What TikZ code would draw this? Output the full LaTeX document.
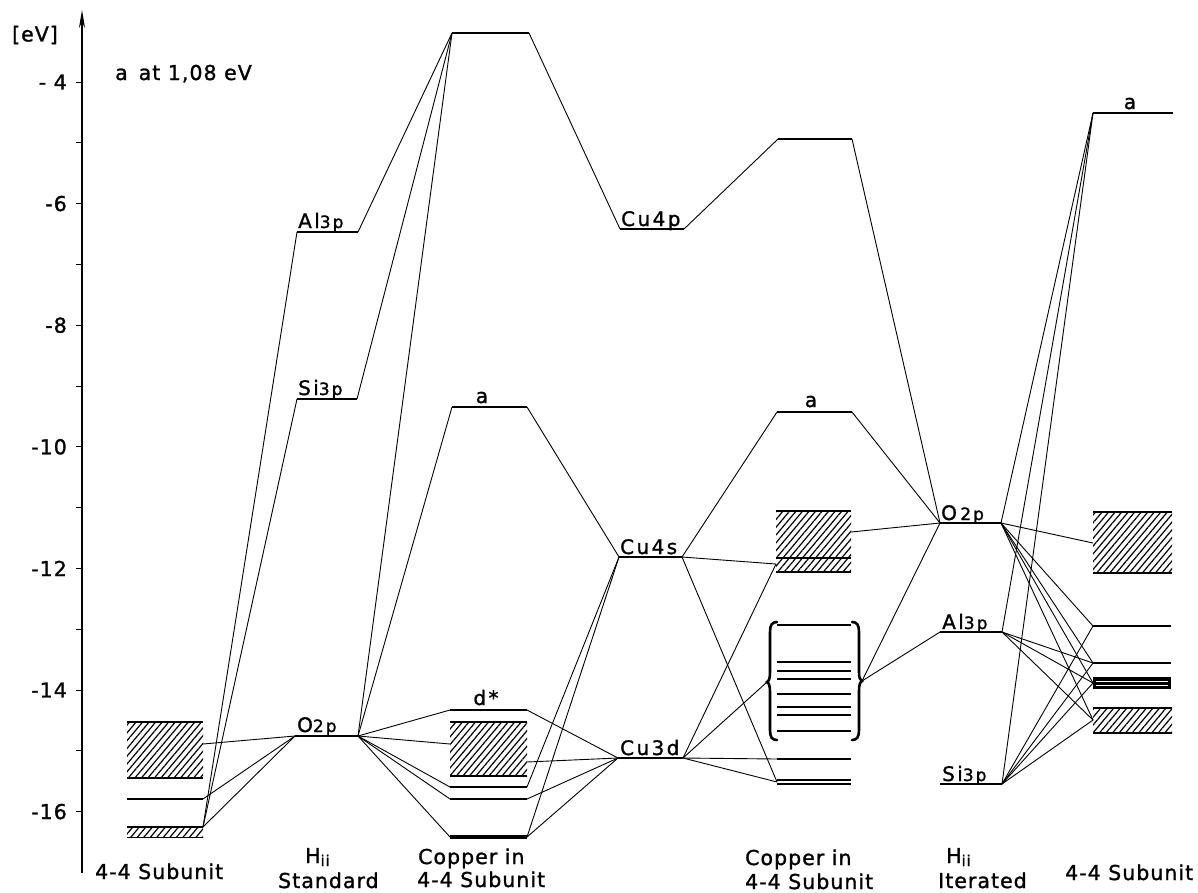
\documentclass[tikz,border=0pt]{standalone}
\usepackage{fontspec}
\setmainfont{DejaVu Sans}
\newfontfamily\lfa{DejaVu Sans}[LetterSpace=5,UprightFeatures={FakeBold=1.3}]
\newfontfamily\lfb{DejaVu Sans}[LetterSpace=12,UprightFeatures={FakeBold=1.3}]
\usetikzlibrary{arrows.meta,patterns.meta}
\newcommand\labfont{\lfb\fontsize{20}{22}\selectfont}
\newcommand\axfont{\lfa\fontsize{20.5}{22}\selectfont}
\newcommand\smf[1]{{\lfb\fontsize{17}{17}\selectfont #1}}
\newcommand\sbf[1]{{\lfa\fontsize{15}{15}\selectfont #1}}
\begin{document}
\begin{tikzpicture}[x=1pt,y=-1pt,
  lev/.style={line width=1.6pt},
  thk/.style={line width=2.8pt},
  con/.style={line width=0.9pt},
  hatch/.style={pattern={Lines[angle=50,distance=5pt,line width=1.2pt]}},
  lab/.style={inner sep=0pt,font=\labfont},
  axl/.style={inner sep=0pt,font=\axfont}]
\useasboundingbox (0,0) rectangle (1198,892);

% ---------- axis ----------
\draw[line width=1.2pt,-{Stealth[length=18pt,width=6pt]}] (82,873) -- (82,10);
\foreach \e in {4,...,16} {\draw[line width=1pt] (76,{82+(\e-4)*60.8}) -- (82,{82+(\e-4)*60.8});}
\node[axl,anchor=east] (n4) at (67,82) {- 4};
\node[axl,anchor=east] (n6) at (67,203.6) {-6};
\node[axl,anchor=east] (n8) at (67,325.2) {-8};
\node[axl,anchor=east] (n10) at (67,446.8) {-10};
\node[axl,anchor=east] (n12) at (67,568.4) {-12};
\node[axl,anchor=east] (n14) at (67,690) {-14};
\node[axl,anchor=east] (n16) at (67,811.6) {-16};
\node[axl] (unit) at (35,35) {[eV]};
\node[axl,anchor=base west] (note) at (115,80) {a\, at 1,08 eV};

% ---------- coordinates ----------
\coordinate (s1box) at (203,744);
\coordinate (s1l) at (203,799);
\coordinate (s1band) at (203,827);
\coordinate (alL) at (297,232); \coordinate (alR) at (358,232);
\coordinate (siL) at (297,399); \coordinate (siR) at (357,399);
\coordinate (oL) at (295,736);  \coordinate (oR) at (358,736);
\coordinate (c3tL) at (452,33);  \coordinate (c3tR) at (529,33);
\coordinate (c3aL) at (452,407); \coordinate (c3aR) at (527,407);
\coordinate (c3dL) at (450,710); \coordinate (c3dR) at (527,710);
\coordinate (c3bL) at (450,744); \coordinate (c3bR) at (527,762);
\coordinate (c3eL) at (450,787); \coordinate (c3eR) at (527,787);
\coordinate (c3fL) at (450,799); \coordinate (c3fR) at (527,799);
\coordinate (c3gL) at (450,837); \coordinate (c3gR) at (527,837);
\coordinate (cupL) at (620,229); \coordinate (cupR) at (684,229);
\coordinate (cusL) at (619,557); \coordinate (cusR) at (682,557);
\coordinate (cudL) at (618,758); \coordinate (cudR) at (683,758);
\coordinate (c5tL) at (778,139); \coordinate (c5tR) at (852,139);
\coordinate (c5aL) at (777,412); \coordinate (c5aR) at (852,412);
\coordinate (c5bL) at (776,564); \coordinate (c5bR) at (851,532);
\coordinate (c5kL) at (767,682); \coordinate (c5kR) at (862,681);
\coordinate (c5mL) at (777,759);
\coordinate (c5nL) at (777,782);
\coordinate (o6L) at (940,523); \coordinate (o6R) at (1001,523);
\coordinate (a6L) at (940,632); \coordinate (a6R) at (1002,632);
\coordinate (s6L) at (940,784); \coordinate (s6R) at (1002,784);
\coordinate (c7aL) at (1093,113);
\coordinate (c7bL) at (1093,543);
\coordinate (c7cL) at (1093,626);
\coordinate (c7dL) at (1093,663);
\coordinate (c7eL) at (1093,683);
\coordinate (c7fL) at (1093,720);

% ---------- column 1 : 4-4 Subunit ----------
\fill[hatch] (127,722) rectangle (203,778);
\draw[lev] (127,722) -- (203,722);
\draw[lev] (127,778) -- (203,778);
\draw[lev] (127,799) -- (s1l);
\fill[hatch] (127,827) rectangle (203,837);
\draw[lev] (127,827) -- (s1band);
\draw[line width=1pt] (127,837) -- (203,837);

% ---------- column 2 : Hii standard ----------
\draw[lev] (alL) -- (alR);
\draw[lev] (siL) -- (siR);
\draw[lev] (oL) -- (oR);
\node[lab,anchor=base west] (tAl1) at (298,228) {Al\smf{3p}};
\node[lab,anchor=base west] (tSi1) at (298,395) {Si\smf{3p}};
\node[lab,anchor=base west] (tO1) at (297,732) {O\smf{2p}};

% ---------- column 3 : copper in 4-4 subunit ----------
\draw[lev] (c3tL) -- (c3tR);
\draw[lev] (c3aL) -- (c3aR);
\draw[thk] (c3dL) -- (c3dR);
\fill[hatch] (450,722) rectangle (527,776);
\draw[lev] (450,722) -- (527,722);
\draw[lev] (450,776) -- (527,776);
\draw[thk] (c3eL) -- (c3eR);
\draw[lev] (c3fL) -- (c3fR);
\draw[line width=3.4pt] (c3gL) -- (c3gR);
\node[lab,anchor=base] (ta3) at (482,403) {a};
\node[lab,anchor=base] (td3) at (486,705) {d*};

% ---------- Cu atomic ----------
\draw[lev] (cupL) -- (cupR);
\draw[lev] (cusL) -- (cusR);
\draw[lev] (cudL) -- (cudR);
\node[lab,anchor=base west] (tCup) at (621,226) {Cu4p};
\node[lab,anchor=base west] (tCus) at (620,554) {Cu4s};
\node[lab,anchor=base west] (tCud) at (620,755) {Cu3d};

% ---------- column 5 : copper in 4-4 subunit ----------
\draw[lev] (c5tL) -- (c5tR);
\draw[lev] (c5aL) -- (c5aR);
\fill[hatch] (776,511) rectangle (851,572);
\draw[lev] (776,511) -- (851,511);
\draw[lev] (776,558) -- (851,558);
\draw[lev] (776,572) -- (851,572);
\foreach \yy in {625,662,671,679,694,707,715,731} {\draw[lev] (777,\yy) -- (851,\yy);}
\draw[line width=2.6pt,line cap=round]
  (777,622) .. controls (772,622) and (770,625) .. (770,632) -- (770,672)
  .. controls (770,678) and (769,681) .. (c5kL)
  .. controls (769,683) and (770,686) .. (770,692) -- (770,730)
  .. controls (770,737) and (772,740) .. (777,740);
\draw[line width=2.6pt,line cap=round]
  (852,622) .. controls (857,622) and (859,625) .. (859,632) -- (859,672)
  .. controls (859,678) and (860,680) .. (c5kR)
  .. controls (860,682) and (859,685) .. (859,691) -- (859,730)
  .. controls (859,737) and (857,740) .. (852,740);
\draw[lev] (c5mL) -- (851,759);
\draw[lev] (777,780) -- (851,780);
\draw[lev] (777,784) -- (851,784);
\node[lab,anchor=base] (ta5) at (811,407) {a};

% ---------- column 6 : Hii iterated ----------
\draw[lev] (o6L) -- (o6R);
\draw[lev] (a6L) -- (a6R);
\draw[lev] (s6L) -- (s6R);
\node[lab,anchor=base west] (tO6) at (941,520) {O\,\smf{2p}};
\node[lab,anchor=base west] (tAl6) at (942,629) {Al\smf{3p}};
\node[lab,anchor=base west] (tSi6) at (942,781) {Si\smf{3p}};

% ---------- column 7 : 4-4 subunit ----------
\draw[lev] (c7aL) -- (1173,113);
\fill[hatch] (1093,512) rectangle (1172,573);
\draw[lev] (1093,512) -- (1172,512);
\draw[lev] (1093,573) -- (1172,573);
\draw[lev] (c7cL) -- (1171,626);
\draw[lev] (c7dL) -- (1171,663);
\fill (1093,677) rectangle (1171,689);
\draw[white,line width=0.6pt] (1096,681) -- (1168,681);
\draw[white,line width=0.6pt] (1096,685) -- (1168,685);
\fill[hatch] (1093,708) rectangle (1172,733);
\draw[lev] (1093,708) -- (1172,708);
\draw[lev] (1093,733) -- (1172,733);
\node[lab,anchor=base] (ta7) at (1130,109) {a};

% ---------- connectors ----------
\foreach \a/\b in {s1box/oL, s1l/oL, s1band/oL, s1band/alL, s1band/siL,
  alR/c3tL, siR/c3tL, oR/c3tL, oR/c3aL, oR/c3dL, oR/c3bL, oR/c3eL, oR/c3fL, oR/c3gL,
  c3tR/cupL, c3aR/cusL, c3eR/cusL, c3gR/cusL, c3dR/cudL, c3bR/cudL, c3fR/cudL, c3gR/cudL,
  cupR/c5tL, cusR/c5aL, cusR/c5bL, cusR/c5nL, cudR/c5bL, cudR/c5kL, cudR/c5mL, cudR/c5nL,
  c5tR/o6L, c5aR/o6L, c5bR/o6L, c5kR/o6L, c5kR/a6L,
  o6R/c7aL, a6R/c7aL, s6R/c7aL, o6R/c7bL, o6R/c7cL, o6R/c7dL, o6R/c7eL, o6R/c7fL,
  a6R/c7dL, a6R/c7eL, a6R/c7fL, s6R/c7cL, s6R/c7dL, s6R/c7eL, s6R/c7fL}
  {\draw[con] (\a) -- (\b);}

% ---------- bottom labels ----------
\node[axl,anchor=base west] (x1) at (95,879) {4-4 Subunit};
\node[axl,anchor=base west] (x2a) at (305,863) {H\raisebox{-3pt}{\sbf{ii}}};
\node[axl,anchor=base west] (x2b) at (278,888) {Standard};
\node[axl,anchor=base west] (x3a) at (418,864) {Copper in};
\node[axl,anchor=base west] (x3b) at (417,887) {4-4 Subunit};
\node[axl,anchor=base west] (x5a) at (745,865) {Copper in};
\node[axl,anchor=base west] (x5b) at (745,889) {4-4 Subunit};
\node[axl,anchor=base west] (x6a) at (946,863) {H\raisebox{-3pt}{\sbf{ii}}};
\node[axl,anchor=base west] (x6b) at (938,888) {Iterated};
\node[axl,anchor=base west] (x7) at (1065,880) {4-4 Subunit};
\end{tikzpicture}
\end{document}
